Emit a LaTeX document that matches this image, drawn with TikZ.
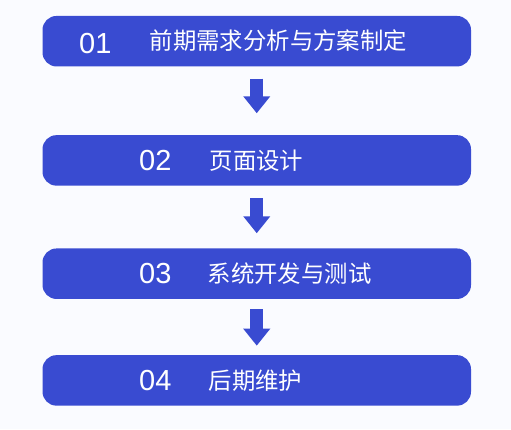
\documentclass[tikz,border=0pt]{standalone}
\usepackage{fontspec}
\newfontfamily\cjk{Noto Sans CJK SC}
\newfontfamily\numfont{Liberation Sans}
\usetikzlibrary{arrows.meta}
\definecolor{boxblue}{RGB}{57,75,209}
\definecolor{bg}{RGB}{250,251,255}
\tikzset{
  box/.style={fill=boxblue, draw=none, rounded corners=14pt, minimum width=428.5pt, minimum height=50.5pt, inner sep=0pt},
  num/.style={anchor=west, inner sep=0pt, text=white, font=\numfont\fontsize{29}{29}\selectfont},
  label/.style={anchor=west, inner sep=0pt, text=white, font=\cjk\fontsize{23.4}{23.4}\selectfont},
  flow/.style={draw=boxblue, line width=12.7pt, line cap=butt, -{Triangle[width=26pt,length=17pt]}}
}
\begin{document}
\begin{tikzpicture}[x=1pt,y=-1pt]
\fill[bg] (0,0) rectangle (511,429);
\useasboundingbox (0,0) rectangle (511,429);
\node[box] (b1) at (256.75,41.2) {};
\node[box] (b2) at (256.75,160.4) {};
\node[box] (b3) at (256.75,273.7) {};
\node[box] (b4) at (256.75,380.4) {};
\node[num] (n1) at (79,44) {01};
\node[label] (t1) at (149.5,40.5) {前期需求分析与方案制定};
\node[num] (n2) at (139,161) {02};
\node[label] (t2) at (209.5,160.5) {页面设计};
\node[num] (n3) at (139,274) {03};
\node[label] (t3) at (207.5,273.5) {系统开发与测试};
\node[num] (n4) at (139,381) {04};
\node[label] (t4) at (208.5,380.5) {后期维护};
\draw[flow] ([yshift=-12pt]b1.south) -- ([yshift=21.7pt]b2.north);
\draw[flow] ([yshift=-12.3pt]b2.south) -- ([yshift=15pt]b3.north);
\draw[flow] ([yshift=-10pt]b3.south) -- ([yshift=9.3pt]b4.north);
\end{tikzpicture}
\end{document}
